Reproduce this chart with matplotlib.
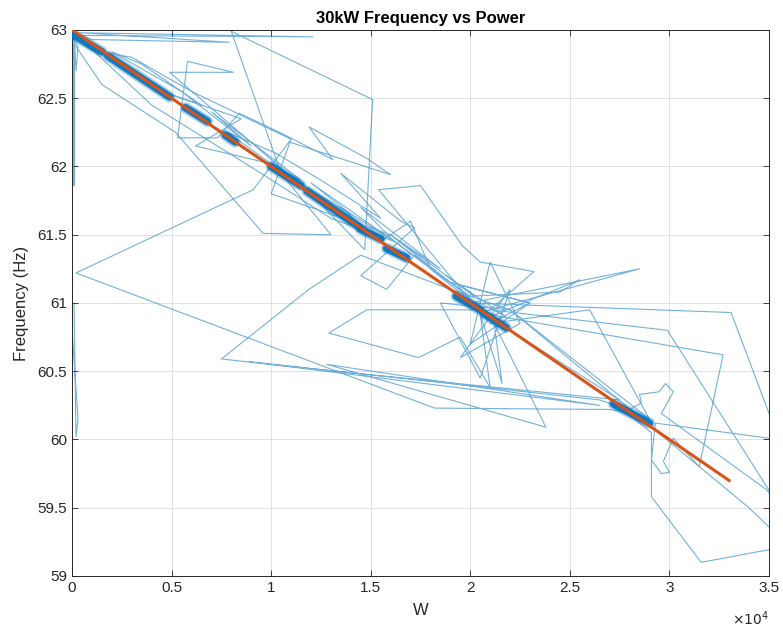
import matplotlib
matplotlib.use("Agg")
import matplotlib.pyplot as plt
import numpy as np

plt.rcParams['font.family'] = ['Liberation Sans', 'DejaVu Sans']

# ---- data (power in units of 1e4 W, frequency in Hz) ----
path_w = [0.00, 0.03, 1.21, 0.04, 0.79, 0.10, 0.01, 0.01, 0.01, 0.15, 0.52, 0.96, 1.30, 1.05,
          0.80, 1.51, 1.47, 1.20, 0.49, 0.81, 0.58, 0.53, 0.73, 0.84, 1.07, 1.31, 1.19, 1.48,
          1.60, 1.09, 0.91, 0.02, 1.82, 2.70, 2.78, 2.86, 2.85, 2.95, 2.98, 3.02, 2.96, 3.49,
          3.60, 2.99, 2.10, 2.32, 2.05, 1.96, 1.75, 1.54, 2.05, 2.85, 2.00, 3.31, 3.55, 2.93,
          2.91, 2.96, 3.00, 2.97, 3.02, 3.15, 3.27, 2.15, 2.05, 1.48, 1.29, 1.74, 1.95, 2.10,
          2.05, 2.16, 2.12, 2.38, 1.28, 2.65, 0.89, 2.65, 2.75, 2.91, 2.91, 3.16, 3.60, 3.40,
          2.20, 1.90, 1.45, 1.19, 0.75, 1.19, 2.75, 2.20, 1.60, 1.40, 1.00, 1.10, 0.60, 0.30,
          0.10, 0.00, 0.03, 0.02, 0.01, 0.40, 0.95, 1.30, 1.62, 1.85, 2.00, 2.45, 2.55, 2.10,
          1.80, 1.70, 1.55, 1.35, 1.62, 1.90, 2.30, 2.10, 2.60, 2.90,
          2.20, 1.85, 2.05, 2.20, 1.95, 2.25, 2.10, 2.00, 2.30, 1.90, 1.72, 1.58, 1.45, 1.72,
          1.65, 1.35, 1.55, 1.25, 1.02, 0.78, 1.00, 0.62, 0.85, 0.45, 0.65, 0.35, 0.20, 0.55,
          0.90, 0.70, 1.15, 0.95, 1.40, 1.20, 1.62, 1.45, 1.85, 1.60, 2.02, 1.88, 2.18, 2.05]
path_f = [63.00, 62.96, 62.95, 62.98, 62.91, 62.93, 62.97, 61.86, 62.90, 62.60, 62.25, 61.51, 61.50, 61.95,
          62.99, 62.49, 61.39, 61.80, 62.69, 62.69, 62.77, 62.21, 62.21, 62.39, 62.23, 62.05, 62.29, 62.06,
          61.94, 62.18, 61.83, 61.22, 60.23, 60.22, 60.20, 60.27, 60.33, 60.35, 60.41, 60.35, 60.19, 59.63,
          59.40, 60.80, 60.95, 61.23, 61.30, 61.42, 61.86, 61.83, 60.93, 61.25, 61.00, 60.93, 60.00, 60.12,
          59.85, 59.75, 59.76, 59.84, 60.01, 59.80, 60.62, 60.90, 60.95, 60.95, 60.78, 60.60, 60.75, 60.38,
          60.92, 60.41, 60.85, 60.09, 60.55, 60.25, 60.57, 60.29, 60.24, 60.05, 59.58, 59.10, 59.22, 59.50,
          60.95, 61.10, 61.35, 61.10, 60.59, 60.52, 60.29, 60.80, 61.50, 61.60, 61.80, 62.20, 62.55, 62.80,
          62.85, 62.95, 62.88, 62.70, 62.98, 62.45, 61.95, 61.62, 61.45, 61.20, 61.05, 61.08, 61.17, 60.90,
          61.25, 61.60, 61.45, 61.70, 61.45, 61.15, 61.00, 60.85, 60.95, 60.15,
          60.95, 61.00, 60.45, 61.10, 60.60, 60.85, 61.30, 60.70, 61.00, 61.15, 61.35, 61.10, 61.20, 61.55,
          61.60, 61.95, 61.62, 61.90, 62.10, 62.25, 62.02, 62.15, 62.35, 62.55, 62.45, 62.75, 62.84, 62.55,
          62.15, 62.40, 61.90, 62.05, 61.65, 61.88, 61.45, 61.70, 61.25, 61.50, 61.05, 61.20, 60.90, 61.00]

left_w = [0.00, 0.00, 0.03, 0.02, 0.01]
left_f = [61.05, 60.80, 60.15, 60.02, 61.00]

# dense clusters of samples lying along the droop line
cluster_w0 = [0.00, 0.18, 0.57, 0.77, 1.00, 1.18, 1.32, 1.45, 1.58, 1.93, 2.07, 2.72]
cluster_f0 = [62.97, 62.81, 62.43, 62.23, 62.00, 61.82, 61.68, 61.54, 61.40, 61.05, 60.92, 60.26]
cluster_w1 = [0.15, 0.49, 0.68, 0.82, 1.15, 1.30, 1.44, 1.55, 1.68, 2.05, 2.18, 2.90]
cluster_f1 = [62.84, 62.51, 62.33, 62.18, 61.86, 61.70, 61.56, 61.47, 61.33, 60.95, 60.82, 60.12]

fit_w = [0.00, 3.30]
fit_f = [63.00, 59.70]

xtick_vals = [0, 0.5, 1, 1.5, 2, 2.5, 3, 3.5]
xtick_labels = ['0', '0.5', '1', '1.5', '2', '2.5', '3', '3.5']
ytick_vals = [59, 59.5, 60, 60.5, 61, 61.5, 62, 62.5, 63]
ytick_labels = ['59', '59.5', '60', '60.5', '61', '61.5', '62', '62.5', '63']
scale = 1e4

blue = '#0072BD'
orange = '#D95319'
dark = '#262626'

fig = plt.figure(figsize=(7.83, 6.34), dpi=100)
ax = fig.add_axes([0.092, 0.0915, 0.890, 0.8612])

ax.plot(np.array(path_w) * scale, path_f, color=blue, lw=0.8, alpha=0.55, zorder=2)
ax.plot(np.array(left_w) * scale, left_f, color=blue, lw=0.8, alpha=0.55, zorder=2)
for w0, f0, w1, f1 in zip(cluster_w0, cluster_f0, cluster_w1, cluster_f1):
    ax.plot([w0 * scale, w1 * scale], [f0, f1], color=blue, lw=8, alpha=0.35,
            solid_capstyle='round', zorder=3)
    ax.plot([w0 * scale, w1 * scale], [f0, f1], color=blue, lw=5.5, alpha=0.9,
            solid_capstyle='round', zorder=3)
ax.plot(np.array(fit_w) * scale, fit_f, color=orange, lw=2.2, zorder=4)

ax.set_xlim(0, 3.5 * scale)
ax.set_ylim(59, 63)
ax.set_xticks([v * scale for v in xtick_vals])
ax.set_xticklabels(xtick_labels)
ax.set_yticks(ytick_vals)
ax.set_yticklabels(ytick_labels)
ax.grid(True, color='#dcdcdc', lw=0.6)
ax.set_axisbelow(True)
ax.tick_params(direction='in', length=4, colors=dark, labelsize=11, top=True, right=True,
               labeltop=False, labelright=False, width=0.6)
for s in ax.spines.values():
    s.set_color(dark)
    s.set_linewidth(0.7)

ax.set_xlabel('W', fontsize=12, color=dark, labelpad=6)
ax.set_ylabel('Frequency (Hz)', fontsize=12, color=dark, labelpad=6)
ax.set_title('30kW Frequency vs Power', fontsize=12, fontweight='bold', color='black', pad=5)
ax.text(1.0, -0.062, r'$\times10^{4}$', transform=ax.transAxes, ha='right', va='top',
        fontsize=10, color=dark)

fig.savefig('out.png', dpi=100)
